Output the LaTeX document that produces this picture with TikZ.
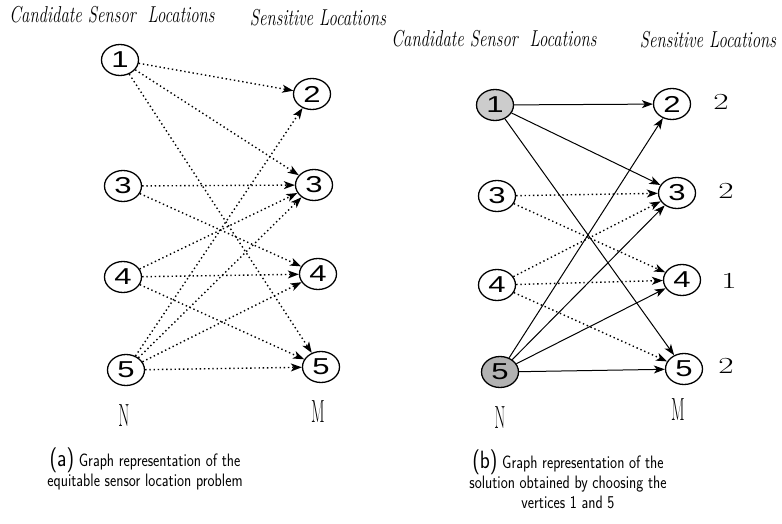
\documentclass[tikz,border=0pt]{standalone}
\usepackage{fontspec}
\usepackage{graphicx}
\newfontfamily\numfont{Liberation Sans}
\usetikzlibrary{shapes.geometric,arrows.meta}
\newcommand{\slim}[2]{\scalebox{#1}[1]{#2}}
\newcommand{\capline}[1]{\slim{0.83}{#1}}
\newcommand{\capmark}[1]{{\fontsize{25}{19}\selectfont(#1)}}
\tikzset{
  loc/.style={draw, line width=1.3pt, ellipse, minimum width=37pt, minimum height=31pt, inner sep=0pt,
    font=\numfont\fontsize{23}{23}\selectfont},
  maybe/.style={line width=1.4pt, dash pattern=on 1.4pt off 2.8pt, -{Stealth[length=11pt,width=8pt,inset=3pt]}},
  chosen/.style={line width=1pt, -{Stealth[length=11pt,width=8pt,inset=3pt]}},
  head/.style={font=\itshape\fontsize{23}{23}\selectfont},
  side/.style={font=\fontsize{32}{32}\selectfont},
  wt/.style={font=\fontsize{23}{23}\selectfont},
  subcap/.style={align=center, inner sep=0pt, font=\sffamily\fontsize{18}{20}\selectfont}
}
\begin{document}
\begin{tikzpicture}[x=1pt,y=-1pt]
        \useasboundingbox (0,0) rectangle (782,524);

        \node[head] (ca) at (112,15) {\slim{0.73}{Candidate Sensor\ \ Locations}};
        \node[head] (sa) at (318,18) {\slim{0.73}{Sensitive Locations}};
        \node[loc] (a1) at (120,60) {\slim{1.35}{1}};
        \node[loc] (a3) at (123,186) {\slim{1.35}{3}};
        \node[loc] (a4) at (123,277) {\slim{1.35}{4}};
        \node[loc] (a5) at (126,370) {\slim{1.35}{5}};
        \node[loc] (sa2) at (312,94) {\slim{1.35}{2}};
        \node[loc] (sa3) at (314,185) {\slim{1.35}{3}};
        \node[loc] (sa4) at (318,274) {\slim{1.35}{4}};
        \node[loc] (sa5) at (321,367) {\slim{1.35}{5}};
        \node[side] (an) at (124,416) {\slim{0.5}{N}};
        \node[side] (am) at (318,412) {\slim{0.5}{M}};

        \draw[maybe] (a1) -- (sa2);
        \draw[maybe] (a1) -- (sa3);
        \draw[maybe] (a1) -- (sa5);
        \draw[maybe] (a3) -- (sa3);
        \draw[maybe] (a3) -- (sa4);
        \draw[maybe] (a4) -- (sa3);
        \draw[maybe] (a4) -- (sa4);
        \draw[maybe] (a4) -- (sa5);
        \draw[maybe] (a5) -- (sa2);
        \draw[maybe] (a5) -- (sa3);
        \draw[maybe] (a5) -- (sa4);
        \draw[maybe] (a5) -- (sa5);

        \node[head] (cb) at (494,39) {\slim{0.73}{Candidate Sensor\ \ Locations}};
        \node[head] (sb) at (708,40) {\slim{0.73}{Sensitive Locations}};
        \node[loc, fill=gray!40] (b1) at (495,105) {\slim{1.35}{1}};
        \node[loc] (b3) at (497,196) {\slim{1.35}{3}};
        \node[loc] (b4) at (497,285) {\slim{1.35}{4}};
        \node[loc, fill=gray!60] (b5) at (500,372) {\slim{1.35}{5}};
        \node[loc] (sb2) at (672,104) {\slim{1.35}{2}};
        \node[loc] (sb3) at (677,193) {\slim{1.35}{3}};
        \node[loc] (sb4) at (682,280) {\slim{1.35}{4}};
        \node[loc] (sb5) at (684,369) {\slim{1.35}{5}};
        \node[side] (bn) at (500,418) {\slim{0.5}{N}};
        \node[side] (bm) at (678,410) {\slim{0.5}{M}};
        \node[wt] (w2) at (721,102) {\slim{1.45}{2}};
        \node[wt] (w3) at (726,191) {\slim{1.45}{2}};
        \node[wt] (w4) at (729,281) {\slim{1.45}{1}};
        \node[wt] (w5) at (726,366) {\slim{1.45}{2}};

        \draw[maybe] (b3) -- (sb3);
        \draw[maybe] (b3) -- (sb4);
        \draw[maybe] (b4) -- (sb3);
        \draw[maybe] (b4) -- (sb4);
        \draw[maybe] (b4) -- (sb5);
        \draw[chosen] (b1) -- (sb2);
        \draw[chosen] (b1) -- (sb3);
        \draw[chosen] (b1) -- (sb5);
        \draw[chosen] (b5) -- (sb2);
        \draw[chosen] (b5) -- (sb3);
        \draw[chosen] (b5) -- (sb4);
        \draw[chosen] (b5) -- (sb5);

        \node[subcap] (capa) at (145,469) {\capline{\capmark{a} Graph representation of the}\\\capline{equitable sensor location problem}};
        \node[subcap] (capb) at (568,479) {\capline{\capmark{b} Graph representation of the}\\\capline{solution obtained by choosing the}\\\capline{vertices 1 and 5}};
\end{tikzpicture}
\end{document}
